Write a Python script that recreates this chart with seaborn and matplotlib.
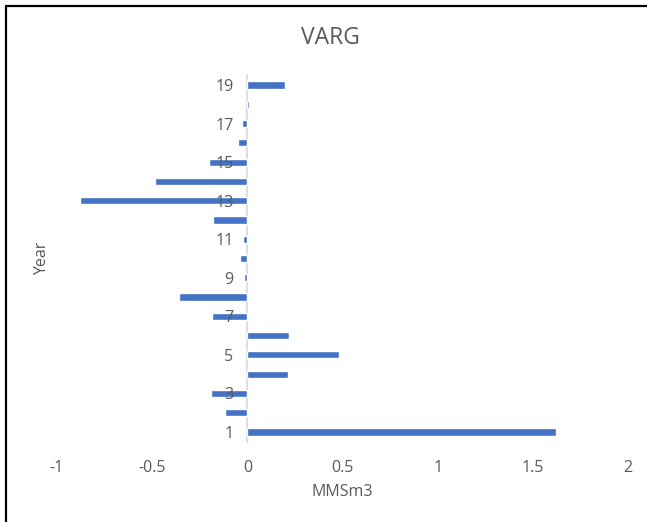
import matplotlib
matplotlib.use("Agg")
import matplotlib.pyplot as plt
import seaborn as sns
import pandas as pd
from matplotlib.lines import Line2D

years = list(range(1, 20))
values = [1.62, -0.115, -0.19, 0.215, 0.48, 0.22, -0.185, -0.36, -0.02, -0.04,
          -0.022, -0.18, -0.88, -0.485, -0.2, -0.05, -0.03, 0.01, 0.20]
xticks = [-1, -0.5, 0, 0.5, 1, 1.5, 2]
xticklabels = ["-1", "-0.5", "0", "0.5", "1", "1.5", "2"]
yticks = [1, 3, 5, 7, 9, 11, 13, 15, 17, 19]

sns.set_theme(style="white")
plt.rcParams['font.family'] = ['Open Sans', 'DejaVu Sans']
gray = "#595959"

fig = plt.figure(figsize=(6.47, 5.22), dpi=100)
ax = fig.add_axes([57/647, 1 - 441.6/522, 571/647, 366.2/522])

df = pd.DataFrame({"Year": years, "MMSm3": values})
sns.barplot(data=df, x="MMSm3", y="Year", orient="h", native_scale=True,
            color="#4472C4", saturation=1, width=0.37, ax=ax)

ax.set_xlim(-1, 2)
ax.set_ylim(0.5, 19.5)
ax.set_xticks(xticks)
ax.set_xticklabels(xticklabels)
ax.set_yticks(yticks)
ax.set_yticklabels([str(y) for y in yticks])

for s in ["top", "right", "bottom"]:
    ax.spines[s].set_visible(False)
ax.spines["left"].set_position(("data", 0))
ax.spines["left"].set_color("#D9D9D9")
ax.spines["left"].set_linewidth(1.2)
ax.spines["left"].set_zorder(0.5)

ax.tick_params(axis="y", length=0, pad=10, labelsize=11.5, labelcolor=gray)
ax.tick_params(axis="x", length=0, pad=13, labelsize=11.5, labelcolor=gray)
ax.xaxis.set_zorder(3)
ax.yaxis.set_zorder(3)

ax.set_xlabel("MMSm3", fontsize=11.5, color=gray)
ax.set_ylabel("Year", fontsize=11.5, color=gray)
ax.xaxis.set_label_coords(0.5, -(492 - 441.6) / 366.2)
ax.yaxis.set_label_coords((42 - 57) / 571, 0.5)
ax.xaxis.label.set_verticalalignment("center")
ax.yaxis.label.set_verticalalignment("center")

fig.text(330/647, 1 - 38/522, "VARG", ha="center", va="center",
         fontsize=16.5, color=gray)

# outer frame (top and left visible)
fig.add_artist(Line2D([5.8/647, 1], [1 - 5.8/522, 1 - 5.8/522],
                      transform=fig.transFigure, color="black", linewidth=1.6))
fig.add_artist(Line2D([5.8/647, 5.8/647], [0, 1 - 5.8/522],
                      transform=fig.transFigure, color="black", linewidth=1.6))

fig.savefig("out.png", dpi=100)
